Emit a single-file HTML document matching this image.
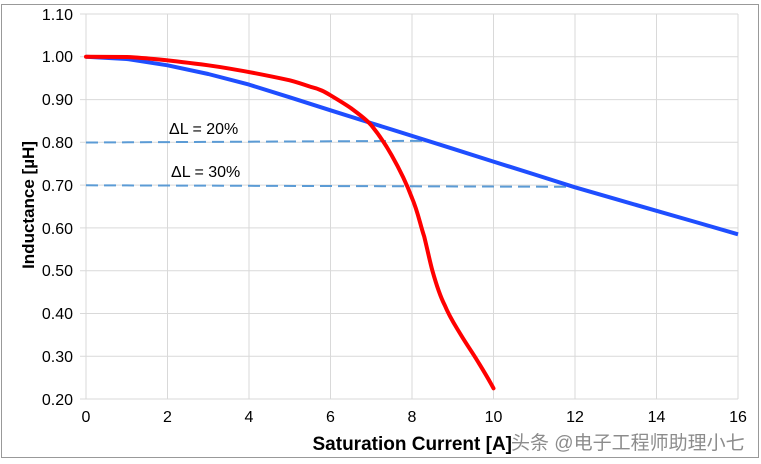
<!DOCTYPE html>
<html><head><meta charset="utf-8"><style>
html,body{margin:0;padding:0;background:#fff;}
svg{display:block;}
text{font-family:"Liberation Sans",Arial,sans-serif;}
</style></head><body>
<svg width="761" height="464" viewBox="0 0 761 464" xmlns="http://www.w3.org/2000/svg">
<rect x="1.5" y="4.5" width="757" height="453" fill="#fff" stroke="#999" stroke-width="1"/>
<g stroke="#d9d9d9" stroke-width="1">
<line x1="86" y1="14" x2="86" y2="399"/><line x1="167.5" y1="14" x2="167.5" y2="399"/>
<line x1="249" y1="14" x2="249" y2="399"/><line x1="330.5" y1="14" x2="330.5" y2="399"/>
<line x1="412" y1="14" x2="412" y2="399"/><line x1="493.5" y1="14" x2="493.5" y2="399"/>
<line x1="575" y1="14" x2="575" y2="399"/><line x1="656.5" y1="14" x2="656.5" y2="399"/>
<line x1="738" y1="14" x2="738" y2="399"/>
<line x1="80" y1="14" x2="738" y2="14"/><line x1="80" y1="56.8" x2="738" y2="56.8"/>
<line x1="80" y1="99.6" x2="738" y2="99.6"/><line x1="80" y1="142.3" x2="738" y2="142.3"/>
<line x1="80" y1="185.1" x2="738" y2="185.1"/><line x1="80" y1="227.9" x2="738" y2="227.9"/>
<line x1="80" y1="270.7" x2="738" y2="270.7"/><line x1="80" y1="313.5" x2="738" y2="313.5"/>
<line x1="80" y1="356.2" x2="738" y2="356.2"/><line x1="80" y1="399" x2="738" y2="399"/>
</g>
<g font-size="16" fill="#000" text-anchor="end">
<text x="73" y="20">1.10</text><text x="73" y="62">1.00</text><text x="73" y="105">0.90</text>
<text x="73" y="148">0.80</text><text x="73" y="191">0.70</text><text x="73" y="234">0.60</text>
<text x="73" y="276">0.50</text><text x="73" y="319">0.40</text><text x="73" y="362">0.30</text>
<text x="73" y="405">0.20</text>
</g>
<g font-size="16" fill="#000" text-anchor="middle">
<text x="86" y="422">0</text><text x="167.5" y="422">2</text><text x="249" y="422">4</text>
<text x="330.5" y="422">6</text><text x="412" y="422">8</text><text x="493.5" y="422">10</text>
<text x="575" y="422">12</text><text x="656.5" y="422">14</text><text x="738" y="422">16</text>
</g>
<text x="512" y="450" font-size="19" font-weight="bold" text-anchor="end">Saturation Current [A]</text>
<text transform="translate(34,205) rotate(-90)" font-size="17" font-weight="bold" text-anchor="middle">Inductance [µH]</text>
<g stroke="#5b9bd5" stroke-width="2" stroke-dasharray="12,6" fill="none">
<line x1="86" y1="142.5" x2="428" y2="140.8"/>
<line x1="86" y1="185.3" x2="575" y2="186.8"/>
</g>
<text x="169" y="134" font-size="16">ΔL = 20%</text>
<text x="171" y="177" font-size="16">ΔL = 30%</text>
<polyline fill="none" stroke="#1f4eff" stroke-width="4" stroke-linejoin="round" points="86,56.8 126.75,59 167.5,65.3 208.25,74 249,84.6 289.75,97.3 330.5,110.3 371.25,123.1 412,135.9 452.75,148.7 493.5,161.6 534.25,174.4 575,187.3 615.75,199.1 656.5,210.8 697.25,222.5 738,234.3"/>
<path fill="none" stroke="#ff0000" stroke-width="4" stroke-linejoin="round" stroke-linecap="round" d="M86,56.8 L126.75,57 C150,58 175,61 208.25,65.3 C235,69 265,75 289.75,80.3 C300,83 310,86.7 310.1,86.7 C320,89 325,92 330.5,95.3 C340,101 345,104 350.9,108.1 C360,115 366,119 371.25,125.2 C380,136 386,145 391.6,155.2 C400,170 406,182 412,198 C418,212 420,224 424.2,236.5 C428,252 430,262 432.4,270.7 C437,287 440,296 444.6,304.9 C450,318 455,325 460.9,334.9 C467,345 472,352 477.2,360.5 C483,370 488,378 493.5,388.3"/>
<text x="511" y="449" font-size="19" fill="#666" fill-opacity="0.75" style="font-family:'Liberation Sans','Noto Sans CJK SC',sans-serif">头条 @电子工程师助理小七</text>
</svg>
</body></html>
